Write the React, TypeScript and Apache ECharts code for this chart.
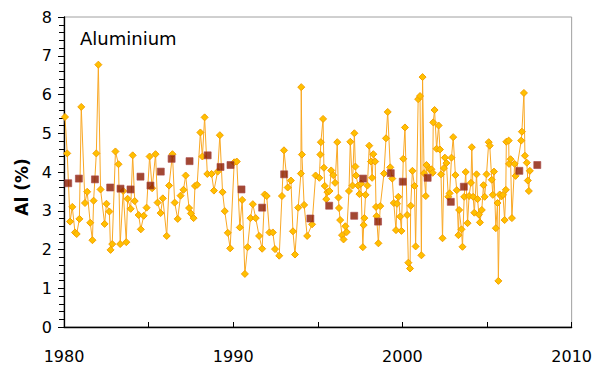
import React, { useEffect, useRef } from "react";
import * as echarts from "echarts";

const sampleYears = [
  1980.06, 1980.19, 1980.36, 1980.49, 1980.65, 1980.75, 1980.91, 1981.02, 1981.24, 1981.37,
  1981.55, 1981.68, 1981.75, 1981.91, 1982.03, 1982.16, 1982.40, 1982.51, 1982.68, 1982.75,
  1982.85, 1983.04, 1983.22, 1983.32, 1983.50, 1983.68, 1983.76, 1983.94, 1984.06, 1984.18,
  1984.41, 1984.54, 1984.71, 1984.88, 1985.06, 1985.21, 1985.41, 1985.53, 1985.71, 1985.84,
  1986.07, 1986.21, 1986.41, 1986.54, 1986.72, 1986.89, 1987.06, 1987.19, 1987.39, 1987.50,
  1987.66, 1987.74, 1987.87, 1988.06, 1988.18, 1988.31, 1988.47, 1988.72, 1988.86, 1989.08,
  1989.21, 1989.37, 1989.50, 1989.68, 1989.82, 1990.06, 1990.21, 1990.39, 1990.53, 1990.69,
  1990.85, 1991.02, 1991.16, 1991.33, 1991.53, 1991.71, 1991.86, 1991.98, 1992.14, 1992.34,
  1992.47, 1992.72, 1992.88, 1993.00, 1993.22, 1993.41, 1993.53, 1993.65, 1993.84, 1994.00,
  1994.02, 1994.06, 1994.19, 1994.37, 1994.66, 1994.87, 1995.09, 1995.15, 1995.18, 1995.31,
  1995.36, 1995.41, 1995.50, 1995.57, 1995.69, 1995.79, 1995.91, 1996.02, 1996.15, 1996.22,
  1996.25, 1996.32, 1996.43, 1996.52, 1996.63, 1996.71, 1996.84, 1996.92, 1997.05, 1997.16,
  1997.22, 1997.26, 1997.38, 1997.46, 1997.55, 1997.66, 1997.71, 1997.75, 1997.82, 1997.93,
  1998.04, 1998.14, 1998.21, 1998.28, 1998.39, 1998.44, 1998.47, 1998.58, 1998.69, 1998.91,
  1999.03, 1999.13, 1999.28, 1999.40, 1999.49, 1999.62, 1999.68, 1999.76, 1999.87, 1999.94,
  2000.05, 2000.15, 2000.28, 2000.35, 2000.45, 2000.49, 2000.59, 2000.71, 2000.78, 2000.93,
  2001.04, 2001.12, 2001.19, 2001.28, 2001.38, 2001.42, 2001.58, 2001.71, 2001.79, 2001.82,
  2001.90, 2002.02, 2002.14, 2002.22, 2002.28, 2002.37, 2002.45, 2002.51, 2002.60, 2002.71,
  2002.79, 2002.90, 2003.00, 2003.13, 2003.21, 2003.31, 2003.35, 2003.49, 2003.55, 2003.65,
  2003.74, 2003.85, 2003.94, 2004.05, 2004.10, 2004.18, 2004.25, 2004.38, 2004.44, 2004.52,
  2004.58, 2004.69, 2004.79, 2004.86, 2004.97, 2005.10, 2005.16, 2005.28, 2005.34, 2005.41,
  2005.52, 2005.62, 2005.67, 2005.75, 2005.85, 2005.94, 2006.04, 2006.11, 2006.14, 2006.28,
  2006.30, 2006.39, 2006.47, 2006.63, 2006.69, 2007.02, 2007.06, 2007.18, 2007.24, 2007.35,
  2007.41, 2007.47, 2007.53,
];

const sampleValues = [
  5.42, 4.48, 2.72, 3.10, 2.44, 2.40, 2.79, 5.68, 3.20, 3.49,
  2.69, 2.24, 3.26, 4.48, 6.77, 3.55, 2.66, 3.18, 2.98, 1.99,
  2.14, 4.53, 4.20, 2.14, 3.51, 2.19, 3.31, 3.05, 4.43, 3.25,
  2.89, 2.52, 2.87, 3.08, 4.40, 3.58, 4.46, 3.21, 2.94, 3.32,
  2.35, 3.65, 4.46, 3.21, 2.79, 3.39, 3.54, 3.91, 3.07, 2.93,
  2.81, 3.64, 3.67, 5.02, 4.40, 5.41, 3.95, 3.95, 3.52, 4.01,
  4.95, 3.48, 2.99, 2.43, 2.03, 4.25, 4.27, 2.57, 3.28, 1.37,
  2.06, 2.81, 3.17, 2.81, 2.35, 2.02, 3.42, 3.38, 2.44, 2.44,
  2.01, 1.84, 3.38, 4.56, 3.60, 3.78, 2.47, 1.87, 3.08, 3.96,
  6.19, 4.45, 3.15, 2.35, 2.65, 3.91, 3.85, 4.45, 4.77, 5.37,
  4.11, 3.64, 3.30, 3.48, 3.51, 4.04, 3.92, 3.72, 4.77, 3.34,
  3.07, 2.76, 2.37, 2.26, 2.60, 2.45, 3.51, 4.78, 3.65, 5.00,
  4.14, 3.91, 3.65, 3.43, 3.70, 2.06, 2.63, 2.81, 3.41, 3.65,
  4.68, 4.27, 3.85, 4.46, 4.27, 3.10, 2.86, 2.16, 3.12, 3.96,
  4.87, 5.55, 4.12, 3.83, 3.20, 2.50, 3.18, 3.36, 2.85, 2.48,
  4.34, 5.15, 2.89, 1.66, 1.51, 3.13, 4.03, 3.64, 2.08, 5.88,
  5.96, 1.85, 6.45, 3.97, 3.38, 4.18, 4.08, 4.07, 3.98, 5.28,
  5.60, 4.60, 5.20, 4.58, 3.94, 2.29, 4.10, 4.37, 4.23, 3.36,
  3.45, 4.37, 4.90, 3.92, 3.53, 2.37, 3.02, 2.52, 2.07, 3.36,
  4.00, 2.68, 3.38, 3.72, 4.64, 3.36, 2.95, 3.94, 3.30, 2.90,
  2.70, 3.02, 3.66, 3.36, 3.94, 4.77, 4.68, 3.80, 3.41, 4.01,
  2.55, 3.20, 1.19, 3.42, 3.37, 3.41, 2.76, 3.54, 4.78, 4.81,
  4.21, 4.33, 2.81, 4.21, 3.90, 4.81, 5.04, 6.04, 4.42, 4.24,
  3.78, 3.51, 4.03,
];

const annualYears = [
  1980.25, 1980.88, 1981.83, 1982.73, 1983.34, 1983.93, 1984.52, 1985.11, 1985.72, 1986.36,
  1987.42, 1988.49, 1989.25, 1989.84, 1990.49, 1991.71, 1993.01, 1994.56, 1995.67, 1997.15,
  1997.68, 1998.56, 1999.31, 2000.02, 2001.49, 2002.86, 2003.63, 2006.91, 2007.97,
];

const annualValues = [
  3.71, 3.83, 3.81, 3.60, 3.57, 3.55, 3.88, 3.65, 4.01, 4.34,
  4.28, 4.43, 4.13, 4.18, 3.55, 3.08, 3.94, 2.80, 3.13, 2.87,
  3.83, 2.72, 3.97, 3.75, 3.85, 3.23, 3.62, 4.03, 4.18,
];

const xTickLabels = ["1980", "1990", "2000", "2010"];
const chartLabel = "Aluminium";
const yAxisTitle = "Al (%)";

const FONT = "DejaVu Sans, Verdana, sans-serif";

export default function App() {
  const ref = useRef<HTMLDivElement>(null);

  useEffect(() => {
    if (!ref.current) return;
    const chart = echarts.init(ref.current, null, { renderer: "svg" });
    const samples = sampleYears.map((y, i) => [y, sampleValues[i]]);
    const annual = annualYears.map((y, i) => [y, annualValues[i]]);
    chart.setOption({
      animation: false,
      backgroundColor: "#ffffff",
      grid: {
        left: 64,
        right: 22,
        top: 17,
        bottom: 42,
        show: true,
        borderColor: "#a0a0a0",
        borderWidth: 1,
        backgroundColor: "transparent",
      },
      xAxis: {
        type: "value",
        min: 1980,
        max: 2010,
        interval: 5,
        axisLine: { show: true, onZero: false, lineStyle: { color: "#000", width: 1.3 } },
        axisTick: { show: true, inside: true, length: 5, lineStyle: { color: "#000" } },
        axisLabel: {
          margin: 21,
          fontFamily: FONT,
          fontSize: 16,
          color: "#000",
          formatter: (v: number) => (xTickLabels.includes(String(v)) ? String(v) : ""),
        },
        splitLine: { show: false },
      },
      yAxis: {
        type: "value",
        min: 0,
        max: 8,
        interval: 1,
        axisLine: { show: true, onZero: false, lineStyle: { color: "#000", width: 1.3 } },
        axisTick: { show: true, inside: false, length: 6, lineStyle: { color: "#000" } },
        minorTick: { show: true, splitNumber: 5, length: 5, lineStyle: { color: "#000" } },
        axisLabel: { margin: 12, fontFamily: FONT, fontSize: 16, color: "#000" },
        splitLine: { show: false },
      },
      graphic: [
        {
          type: "text",
          left: 80,
          top: 29,
          style: { text: chartLabel, font: `18px ${FONT}`, fill: "#000" },
        },
        {
          type: "text",
          x: 22,
          y: 187,
          rotation: Math.PI / 2,
          style: {
            text: yAxisTitle,
            font: `bold 17px ${FONT}`,
            fill: "#000",
            align: "center",
            verticalAlign: "middle",
          },
        },
      ],
      series: [
        {
          type: "line",
          data: samples,
          symbol: "diamond",
          symbolSize: 7,
          showAllSymbol: true,
          lineStyle: { color: "#F9A825", width: 1 },
          itemStyle: { color: "#FFC000", borderColor: "#F5A000", borderWidth: 1 },
          z: 2,
        },
        {
          type: "scatter",
          data: annual,
          symbol: "rect",
          symbolSize: 7,
          itemStyle: { color: "#8B1A00", borderColor: "#A84848", borderWidth: 0.8 },
          z: 3,
        },
      ],
    });
    return () => chart.dispose();
  }, []);

  return (
    <div style={{ position: "fixed", left: 0, top: 0, width: 595, height: 369 }}>
      <div ref={ref} style={{ width: 595, height: 369 }} />
    </div>
  );
}
